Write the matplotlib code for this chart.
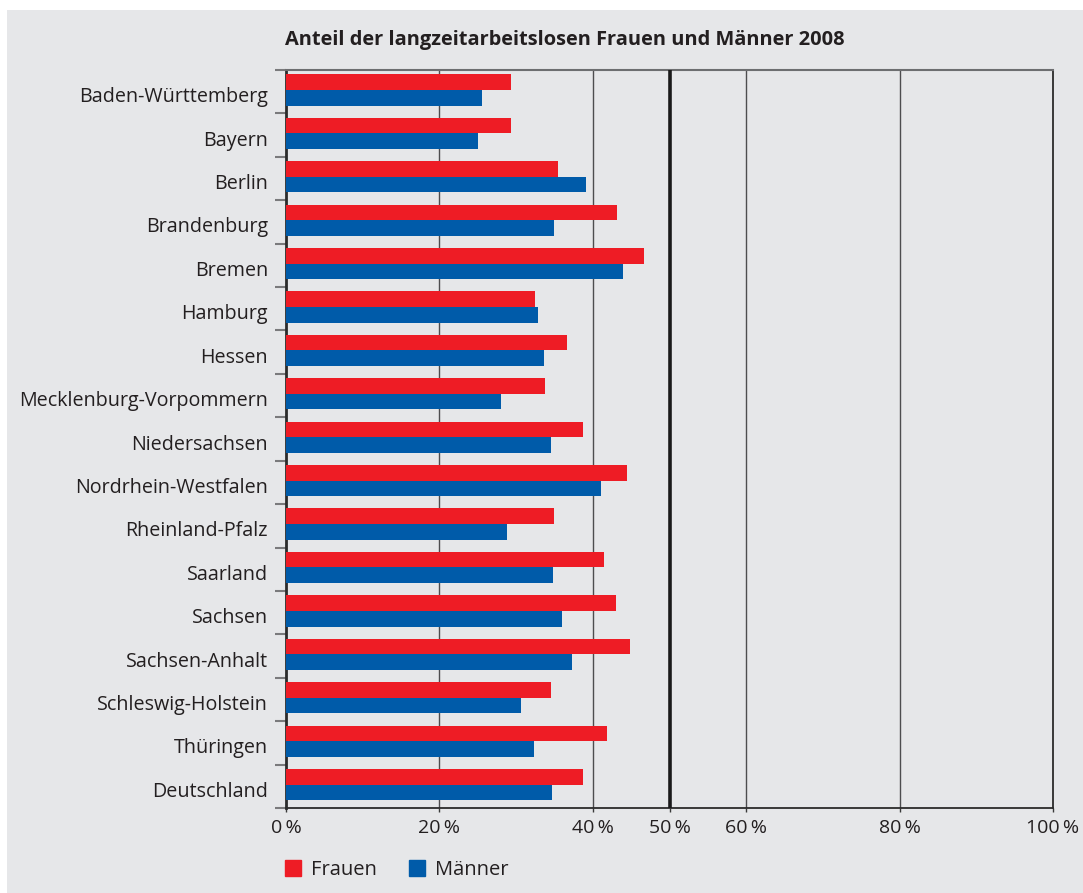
import matplotlib
matplotlib.use("Agg")
import matplotlib.pyplot as plt
import matplotlib.patches as patches
import matplotlib.transforms as mtransforms
import numpy as np

plt.rcParams['font.family'] = ['Open Sans', 'DejaVu Sans']

# data (percent of long-term unemployed)
laender = ['Baden-Württemberg', 'Bayern', 'Berlin', 'Brandenburg', 'Bremen',
           'Hamburg', 'Hessen', 'Mecklenburg-Vorpommern', 'Niedersachsen',
           'Nordrhein-Westfalen', 'Rheinland-Pfalz', 'Saarland', 'Sachsen',
           'Sachsen-Anhalt', 'Schleswig-Holstein', 'Thüringen', 'Deutschland']
frauen = [29.4, 29.4, 35.4, 43.2, 46.7, 32.5, 36.7, 33.8, 38.7, 44.4,
          34.9, 41.4, 43.0, 44.9, 34.5, 41.9, 38.7]
maenner = [25.6, 25.0, 39.1, 35.0, 43.9, 32.9, 33.6, 28.0, 34.6, 41.1,
           28.8, 34.8, 36.0, 37.3, 30.7, 32.3, 34.7]
xticks = [0, 20, 40, 50, 60, 80, 100]
title = 'Anteil der langzeitarbeitslosen Frauen und Männer 2008'

RED = '#ee1c25'
BLUE = '#005ba9'
BG = '#e6e7e9'

fig = plt.figure(figsize=(10.83, 8.93), dpi=100, facecolor='white')
fig.patches.append(patches.Rectangle((7 / 1083, 0), 1 - 7 / 1083, 1 - 10 / 893,
                                     transform=fig.transFigure, facecolor=BG,
                                     edgecolor='none', zorder=-10))
ax = fig.add_axes([286 / 1083, 1 - 808 / 893, (1053 - 286) / 1083, (808 - 70) / 893])
ax.set_facecolor(BG)

y = np.arange(len(laender))
h = 0.36
ax.barh(y - h / 2 - 0.04, frauen, height=h, color=RED, zorder=3)
ax.barh(y + h / 2 - 0.04, maenner, height=h, color=BLUE, zorder=3)

ax.set_xlim(0, 100)
ax.set_ylim(len(laender) - 0.5, -0.5)

# grid lines
for g in [20, 40, 60, 80]:
    ax.axvline(g, color='#4d4d4f', lw=1.0, zorder=1)
ax.axvline(50, color='#1a1a1a', lw=2.6, zorder=4)

ax.set_xticks(xticks)
ax.set_xticklabels(['%d\u2009%%' % t for t in xticks], fontsize=14, color='#231f20')
ax.tick_params(axis='x', length=3, width=1, color='#3a3a3a', pad=5)

ax.set_yticks(y)
ax.set_yticklabels(laender, fontsize=14.2, color='#231f20')
ax.tick_params(axis='y', which='major', length=0, pad=13)
ax.set_yticks(np.arange(-0.5, len(laender), 1), minor=True)
ax.tick_params(axis='y', which='minor', length=8, width=1.5, color='#7a7a7c')
# labels sit a touch below the band centre in the original
offset = mtransforms.ScaledTranslation(0, -3 / 100, fig.dpi_scale_trans)
for lab in ax.get_yticklabels():
    lab.set_transform(lab.get_transform() + offset)

for s in ['left', 'bottom', 'right']:
    ax.spines[s].set_color('#2b2b2b')
    ax.spines[s].set_linewidth(1.3)
ax.spines['top'].set_color('#6d6e70')
ax.spines['top'].set_linewidth(1.5)
ax.spines['left'].set_linewidth(2)

fig.text(285 / 1083, 1 - 40 / 893, title, fontsize=14.4, fontweight='bold',
         color='#231f20', ha='left', va='center')

handles = [patches.Patch(color=RED, label='Frauen'),
           patches.Patch(color=BLUE, label='Männer')]
fig.legend(handles=handles, loc='center left', bbox_to_anchor=(285 / 1083, 1 - 870 / 893),
           ncol=2, frameon=False, fontsize=14.5, handlelength=0.8, handleheight=0.8,
           handletextpad=0.5, columnspacing=1.6, borderpad=0, borderaxespad=0,
           labelcolor='#231f20')

fig.savefig('out.png', dpi=100, facecolor='white')
